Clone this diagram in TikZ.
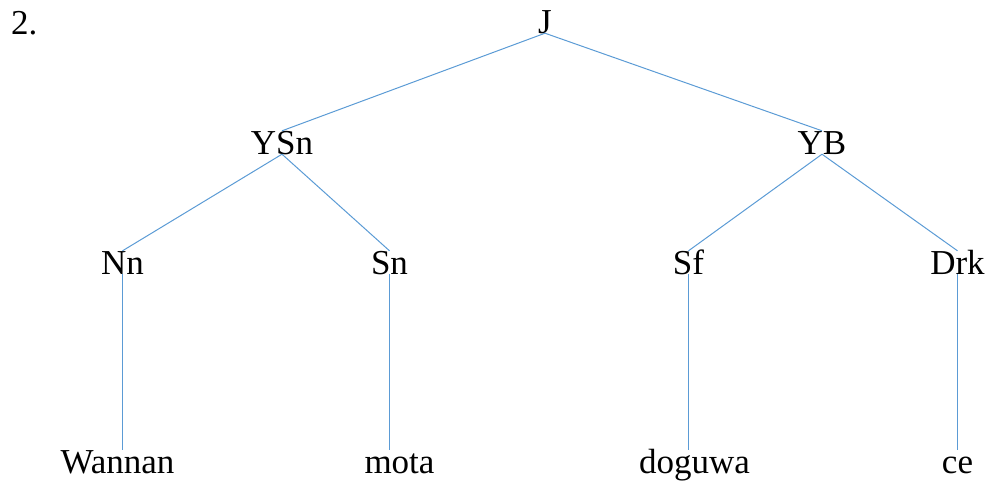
\documentclass[tikz,border=0pt]{standalone}
\usepackage{fontspec}
\setmainfont{Liberation Serif}
\usepackage{tikz}
\definecolor{treeblue}{RGB}{91,155,213}

\begin{document}
\begin{tikzpicture}[x=1pt,y=1pt]
            \useasboundingbox (0,0) rectangle (990,-480);
            \tikzstyle{every node}=[font=\fontsize{35}{42}\selectfont,inner sep=0pt,text height=23pt,text depth=0pt]
            \tikzstyle{edge from parent}=[draw=treeblue,line width=1pt]
            \tikzstyle{level 1}=[sibling distance=540pt,level distance=121pt]
            \tikzstyle{level 2}=[sibling distance=267pt,level distance=120pt]
            \tikzstyle{level 3}=[level distance=199pt,
                edge from parent path={(\tikzparentnode.south) -- (\tikzparentnode.south |- \tikzchildnode.north)}]
            \node[anchor=base west] (num) at (11,-34) {2.};
            \node (J) at (545,-21.5) {J} [edge from parent path={(\tikzparentnode.south) -- (\tikzchildnode.north)}]
                child[xshift=7pt] {node (YSn) {YSn}
                    child[xshift=-26pt] {node (Nn) {Nn}
                        child[xshift=-5pt] {node (Wannan) {Wannan}}}
                    child[xshift=-26pt] {node (Sn) {Sn}
                        child[xshift=10pt] {node (mota) {mota}}}}
                child[xshift=7pt] {node (YB) {YB}
                    child {node (Sf) {Sf}
                        child[xshift=6pt] {node (doguwa) {doguwa}}}
                    child[xshift=2pt] {node (Drk) {Drk}
                        child {node (ce) {ce}}}
                };
        \end{tikzpicture}
\end{document}
